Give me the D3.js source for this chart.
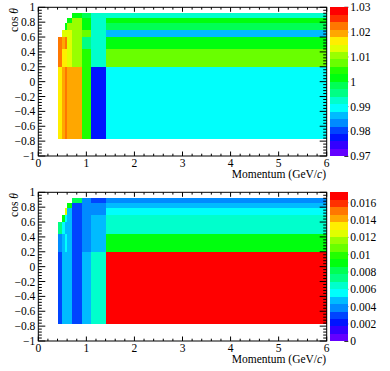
<!DOCTYPE html>
<html><head><meta charset="utf-8">
<script src="https://cdn.jsdelivr.net/npm/d3@7"></script>
<style>body{margin:0;background:#fff}svg{display:block}text{font-family:"Liberation Serif","Times New Roman",serif;font-size:11.5px;fill:#000}</style>
</head><body>
<script>
// bin edges
const momentumEdges = [0.4, 0.5, 0.55, 0.6, 0.7, 0.9, 1.1, 1.4, 6.0];
const cosEdges = [-0.766, 0.2, 0.44, 0.6, 0.7, 0.79, 0.86, 0.92];
// top panel: ratio (rows = cos bins from bottom, cols = momentum bins)
const ratioValues = [
  [1.0165, 1.0195, 1.0225, 1.0195, 1.0195, 1.0045, 0.9775, 0.9895],
  [1.0225, 1.0165, 1.0165, 1.0135, 1.0105, 1.0045, 0.9925, 1.0075],
  [1.0225, 1.0195, 1.0225, 1.0135, 1.0105, 0.9955, 0.9925, 1.0015],
  [null,   1.0135, 1.0135, 1.0135, 1.0105, 1.0075, 0.9925, 0.9865],
  [null,   null,   1.0015, 1.0105, 1.0105, 1.0015, 0.9925, 0.9985],
  [null,   null,   null,   1.0015, 1.0105, 1.0015, 0.9925, 1.0015],
  [null,   null,   null,   null,   1.0015, 0.9985, 0.9925, 0.9925]
];
// bottom panel: uncertainty
const errorValues = [
  [0.00301, 0.00473, 0.00473, 0.00473, 0.00301, 0.00473, 0.00645, 0.0172],
  [0.00387, 0.00473, 0.00559, 0.00473, 0.00301, 0.00387, 0.00473, 0.00903],
  [0.00731, 0.00559, 0.00473, 0.00473, 0.00301, 0.00387, 0.00473, 0.00645],
  [null,    0.00903, 0.00559, 0.00473, 0.00301, 0.00387, 0.00473, 0.00645],
  [null,    null,    0.01247, 0.00473, 0.00301, 0.00387, 0.00387, 0.00559],
  [null,    null,    null,    0.00903, 0.00301, 0.00387, 0.00387, 0.00473],
  [null,    null,    null,    null,    0.00817, 0.00387, 0.00301, 0.00387]
];
const ratioRange = [0.97, 1.03];
const errorRange = [0, 0.0172];
const ratioPaletteTicks = [0.97, 0.98, 0.99, 1.00, 1.01, 1.02, 1.03];
const errorPaletteTicks = [0, 0.002, 0.004, 0.006, 0.008, 0.010, 0.012, 0.014, 0.016];
const xTicks = [0, 1, 2, 3, 4, 5, 6];
const yTicks = [-1, -0.8, -0.6, -0.4, -0.2, 0, 0.2, 0.4, 0.6, 0.8, 1];
const NLEV = 20;

function rootColor(level) {
  const j = Math.floor((level + 0.99) * 50 / NLEV);
  const hue = j < 49 ? 280 - (j + 1) * 5.6 : 0;
  return d3.hsl(hue, 1, 0.5).formatHex();
}
function levelOf(v, range) {
  let k = Math.floor((v - range[0]) / (range[1] - range[0]) * NLEV);
  return Math.max(0, Math.min(NLEV - 1, k));
}

const W = 390, H = 371;
const svg = d3.select("body").append("svg").attr("width", W).attr("height", H);

function panel(offY, values, range, palTicks, fmt) {
  const g = svg.append("g").attr("transform", `translate(0,${offY})`);
  const x = d3.scaleLinear().domain([0, 6]).range([38.3, 326.7]);
  const y = d3.scaleLinear().domain([-1, 1]).range([156, 7.3]);
  const cells = [];
  values.forEach((row, r) => row.forEach((v, c) => { if (v !== null) cells.push({r, c, v}); }));
  g.selectAll("rect.cell").data(cells).join("rect")
    .attr("x", d => x(momentumEdges[d.c]))
    .attr("y", d => y(cosEdges[d.r + 1]))
    .attr("width", d => x(momentumEdges[d.c + 1]) - x(momentumEdges[d.c]))
    .attr("height", d => y(cosEdges[d.r]) - y(cosEdges[d.r + 1]))
    .attr("fill", d => rootColor(levelOf(d.v, range)))
    .attr("shape-rendering", "crispEdges");
  // frame
  g.append("rect").attr("x", x(0)).attr("y", y(1)).attr("width", x(6) - x(0)).attr("height", y(-1) - y(1))
    .attr("fill", "none").attr("stroke", "#000").attr("stroke-width", 1);
  // x ticks
  const xMinor = d3.range(0, 6.0001, 0.2);
  const tk = g.append("g").attr("stroke", "#000").attr("stroke-width", 1);
  xMinor.forEach(t => {
    const major = Math.abs(t - Math.round(t)) < 1e-6;
    const L = major ? 4.5 : 2.3;
    tk.append("line").attr("x1", x(t)).attr("x2", x(t)).attr("y1", y(-1)).attr("y2", y(-1) - L);
    tk.append("line").attr("x1", x(t)).attr("x2", x(t)).attr("y1", y(1)).attr("y2", y(1) + L);
  });
  const yMinor = d3.range(-1, 1.0001, 0.04);
  yMinor.forEach(t => {
    const major = Math.abs(t / 0.2 - Math.round(t / 0.2)) < 1e-6;
    const L = major ? 7 : 3.5;
    tk.append("line").attr("x1", x(0)).attr("x2", x(0) + L).attr("y1", y(t)).attr("y2", y(t));
    tk.append("line").attr("x1", x(6)).attr("x2", x(6) - L).attr("y1", y(t)).attr("y2", y(t));
  });
  g.selectAll("text.xl").data(xTicks).join("text").attr("class", "xl")
    .attr("x", d => x(d)).attr("y", 166.5).attr("text-anchor", "middle").text(d => d);
  g.selectAll("text.yl").data(yTicks).join("text").attr("class", "yl")
    .attr("x", 35.3).attr("y", d => y(d) + 4).attr("text-anchor", "end").text(d => d3.format("~g")(+d.toFixed(1)));
  // axis titles
  const xt = g.append("text").attr("x", 326).attr("y", 178).attr("text-anchor", "end");
  xt.append("tspan").text("Momentum (GeV/");
  xt.append("tspan").attr("font-style", "italic").text("c");
  xt.append("tspan").text(")");
  const yt = g.append("text").attr("transform", "translate(18.3,8) rotate(-90)").attr("text-anchor", "end");
  yt.append("tspan").text("cos ");
  yt.append("tspan").attr("font-style", "italic").text("θ");
  // palette
  const py = d3.scaleLinear().domain(range).range([156.3, 7.3]);
  const px0 = 330, px1 = 348.3;
  const levels = d3.range(NLEV);
  const step = (range[1] - range[0]) / NLEV;
  g.selectAll("rect.pal").data(levels).join("rect")
    .attr("x", px0).attr("width", px1 - px0)
    .attr("y", k => py(range[0] + (k + 1) * step))
    .attr("height", k => py(range[0] + k * step) - py(range[0] + (k + 1) * step))
    .attr("fill", k => rootColor(k)).attr("shape-rendering", "crispEdges");
  palTicks.forEach(t => {
    tk.append("line").attr("x1", px1).attr("x2", px1 - 4).attr("y1", py(t)).attr("y2", py(t));
  });
  g.selectAll("text.pl").data(palTicks).join("text")
    .attr("x", px1 + 2).attr("y", d => py(d) + 4).text(d => fmt(d));
}
panel(0, ratioValues, ratioRange, ratioPaletteTicks, d => d3.format("~g")(+d.toFixed(2)));
panel(185, errorValues, errorRange, errorPaletteTicks, d => d3.format("~g")(+d.toFixed(3)));
</script>
</body></html>
